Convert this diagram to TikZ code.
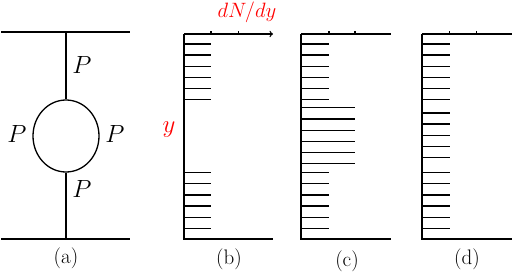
\documentclass[tikz,border=0pt]{standalone}
\usetikzlibrary{shapes.geometric}
\begin{document}
\begin{tikzpicture}[x=1pt,y=-1pt,
  ln/.style={line width=1.3pt},
  lbl/.style={inner sep=0pt,font=\fontsize{21}{24}\selectfont},
  pl/.style={inner sep=0pt,font=\fontsize{24}{28}\selectfont},
  rl/.style={inner sep=0pt,text=red,font=\fontsize{22}{26}\selectfont}]
\useasboundingbox (0,0) rectangle (512,273);
% panel (a)
\coordinate (tl) at (1,32); \coordinate (tr) at (130,32);
\coordinate (bl) at (1,239); \coordinate (br) at (130,239);
\coordinate (vt) at (66,32); \coordinate (vb) at (66,239);
\node[ellipse,draw,ln,minimum width=66pt,minimum height=72pt,inner sep=0pt] (loop) at (66,136) {};
\draw[ln] (tl) -- (tr);
\draw[ln] (bl) -- (br);
\draw[ln] (vt) -- (loop.north);
\draw[ln] (loop.south) -- (vb);
\node[pl] (p1) at (82,65) {$P$};
\node[pl] (p2) at (17,134) {$P$};
\node[pl] (p3) at (115,134) {$P$};
\node[pl] (p4) at (82,189) {$P$};
\node[lbl] (la) at (66,258) {(a)};
% panel axes
\foreach \nm/\x/\xe/\ta/\tb in {b/184/273/211/238.5, c/301/391/329/355, d/422/512/449.5/476.5}{
  \coordinate (\nm o) at (\x,34);
  \coordinate (\nm e) at (\xe,34);
  \coordinate (\nm b) at (\x,239);
  \coordinate (\nm be) at (\xe,239);
  \draw[ln] (\nm o) -- (\nm b) -- (\nm be);
  \draw[ln] (\ta,34) -- (\ta,31);
  \draw[ln] (\tb,34) -- (\tb,31);
}
\draw[ln,->] (bo) -- (be);
\draw[ln] (co) -- (ce);
\draw[ln] (do) -- (de);
% bars (b)
\foreach \y in {44,55,66.3,77.3,88.7,99.7,172.7,183.7,195,206,217.3,228.7}
  \draw[ln] (184,\y) -- (211,\y);
% bars (c)
\foreach \y in {44,55,66.3,77.3,88.7,99.7,172.7,183.7,195,206,217.3,228.7}
  \draw[ln] (301,\y) -- (329,\y);
\foreach \y in {107.7,119,130.3,141.7,152.7,163.7}
  \draw[ln] (301,\y) -- (355,\y);
% bars (d)
\foreach \y in {44,55,66.3,77.3,88.7,99.7,113,124,135.3,146.3,157.7,172.7,183.7,195,206,217.3,228.7}
  \draw[ln] (422,\y) -- (449.5,\y);
\node[rl,font=\fontsize{20}{24}\selectfont] (dn) at (247,12) {$dN/dy$};
\node[rl,font=\fontsize{25}{29}\selectfont] (yl) at (169,130) {$y$};
\node[lbl] (lb) at (229,259) {(b)};
\node[lbl] (lc) at (347,261) {(c)};
\node[lbl] (ld) at (467,259) {(d)};
\end{tikzpicture}
\end{document}
